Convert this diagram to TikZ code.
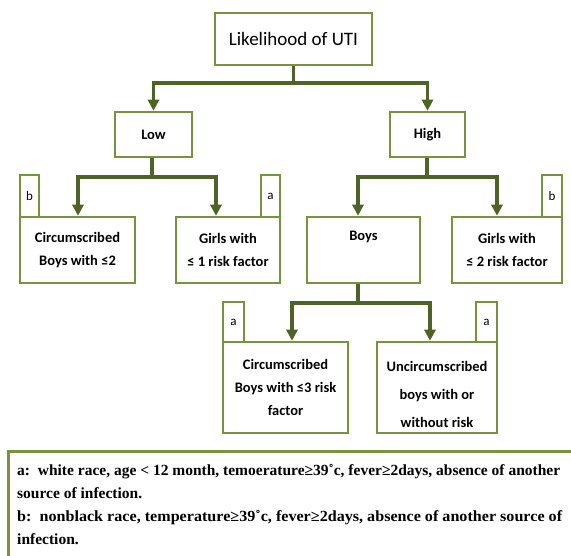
\documentclass[tikz,border=0pt]{standalone}
\usepackage{fontspec}
\usepackage{graphicx}
\setmainfont{Carlito}
\newfontfamily\legendfont{Liberation Serif}
\usetikzlibrary{arrows.meta,calc}
\definecolor{boxgreen}{HTML}{77933C}
\definecolor{arrowgreen}{HTML}{4F6228}
\begin{document}
\begin{tikzpicture}[x=1pt,y=-1pt,
  box/.style={draw=boxgreen, line width=2.5pt, fill=white, inner sep=0pt, align=center,
    font=\bfseries\fontsize{14.5}{23}\selectfont},
  tab/.style={draw=boxgreen, line width=2.5pt, fill=white, inner sep=0pt, minimum width=19pt,
    minimum height=42pt, font=\fontsize{13}{15}\selectfont},
  arr/.style={draw=arrowgreen, line width=3.5pt, -{Triangle[width=11pt,length=11pt]}},
  conn/.style={draw=arrowgreen, line width=3.5pt},
  legendbox/.style={draw=boxgreen, line width=2.5pt, inner sep=0pt},
  legendtext/.style={inner sep=0pt, align=left, font=\legendfont\bfseries\fontsize{15.5}{23}\selectfont}]
\useasboundingbox (0,0) rectangle (571,556);
% tabs
\node[tab] (t1) at (29.5,196) {b};
\node[tab] (t2) at (270.5,196) {a};
\node[tab, minimum width=20pt] (t3) at (552,196) {b};
\node[tab, minimum width=21pt, minimum height=40pt] (t4) at (233.5,322) {a};
\node[tab, minimum width=21pt, minimum height=40pt] (t5) at (486.5,322) {a};
% boxes
\node[box, minimum width=157pt, minimum height=52pt, font=\fontsize{19}{22}\selectfont] (top) at (293.5,39) {Likelihood of UTI};
\node[box, minimum width=77pt, minimum height=45pt] (low) at (153.5,134.5) {Low};
\node[box, minimum width=75pt, minimum height=45pt] (high) at (427.5,134.5) {High};
\node[box, minimum width=115pt, minimum height=66pt] (circ2) at (77.5,250) {Circumscribed\\Boys with ≤2};
\node[box, minimum width=104pt, minimum height=66pt] (girls1) at (228,250) {Girls with\\≤ 1 risk factor};
\node[box, minimum width=113pt, minimum height=66pt,
  label={[anchor=north, yshift=-15pt, inner sep=0pt, font=\bfseries\fontsize{14.5}{23}\selectfont]north:Boys}] (boys) at (363.5,250) {};
\node[box, minimum width=110pt, minimum height=66pt] (girls2) at (507,250) {Girls with\\≤ 2 risk factor};
\node[box, minimum width=125pt, minimum height=91pt] (circ3) at (285.5,387.5) {Circumscribed\\Boys with ≤3 risk\\factor};
\node[box, minimum width=120pt, minimum height=91pt, font=\bfseries\fontsize{14.5}{28}\selectfont] (uncirc) at (437,387.5) {\\[-4pt]Uncircumscribed\\boys with or\\without risk};
% connectors
\coordinate (j0) at ($(top.south)+(0,17)$);
\draw[conn] (top.south) -- (j0);
\draw[arr] (j0) -| (low.north);
\draw[arr] (j0) -| (high.north);
\coordinate (j1) at ($(low.south)+(-1.5,19)$);
\draw[conn] (low.south -| j1) -- (j1);
\draw[arr] (j1) -| ([xshift=0.5pt]circ2.north);
\draw[arr] (j1) -| ([xshift=-12pt]girls1.north);
\coordinate (j2) at ($(high.south)+(-0.5,19)$);
\draw[conn] (high.south -| j2) -- (j2);
\draw[arr] (j2) -| ([xshift=-5.5pt]boys.north);
\draw[arr] (j2) -| ([xshift=-10pt]girls2.north);
\coordinate (j3) at ($(boys.south)+(-5.5,19)$);
\draw[conn] (boys.south -| j3) -- (j3);
\draw[arr] (j3) -| ([xshift=6.5pt]circ3.north);
\draw[arr] (j3) -| ([xshift=-7pt]uncirc.north);
% legend
\node[legendbox, anchor=north west, minimum width=575pt, minimum height=115pt] (legend) at (7,450) {};
\node[legendtext, anchor=north west] (legendtxt) at (17,464) {a:\ \ white race, age < 12 month, temoerature≥39˚c, fever≥2days, absence of another\\
source of infection.\\
\scalebox{1.04}[1]{b:\ \ nonblack race, temperature≥39˚c, fever≥2days, absence of another source of}\\
infection.};
\end{tikzpicture}
\end{document}
